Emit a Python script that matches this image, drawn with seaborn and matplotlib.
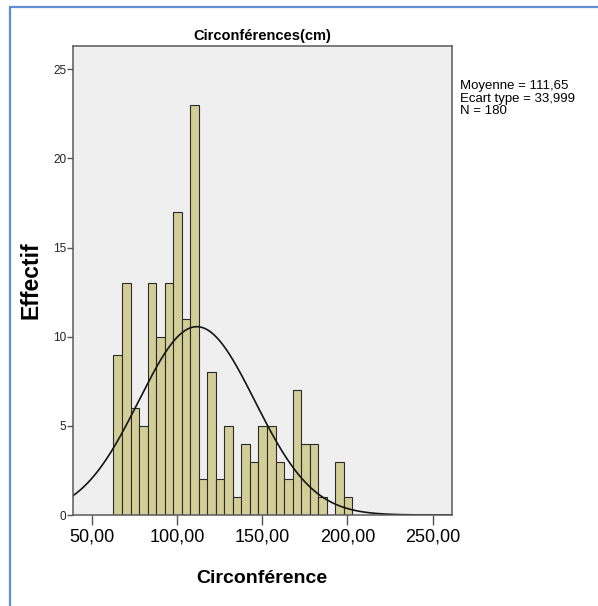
import matplotlib
matplotlib.use("Agg")
import matplotlib.pyplot as plt
from matplotlib import font_manager
from matplotlib.lines import Line2D
import numpy as np
import pandas as pd
import seaborn as sns

# histogram of circumferences (SPSS output), 5 cm bins
bin_start = 62.8
bin_width = 5.0
counts = [9, 13, 6, 5, 13, 10, 13, 17, 11, 23,
          2, 8, 2, 5, 1, 4, 3, 5, 5, 3,
          2, 7, 4, 4, 1, 0, 3, 1]
mean_val = 111.65
sd_val = 33.999
n_obs = 180
x_ticks = [50, 100, 150, 200, 250]
x_tick_labels = ["50,00", "100,00", "150,00", "200,00", "250,00"]
y_ticks = [0, 5, 10, 15, 20, 25]
stats_lines = ["Moyenne = 111,65", "Ecart type = 33,999", "N = 180"]

sns.set_style("white")
available = {f.name for f in font_manager.fontManager.ttflist}
BASE = "Liberation Sans" if "Liberation Sans" in available else "DejaVu Sans"
NARROW = "Liberation Sans Narrow" if "Liberation Sans Narrow" in available else BASE
plt.rcParams["font.family"] = [BASE, "DejaVu Sans"]
plt.rcParams["text.color"] = "black"
plt.rcParams["axes.labelcolor"] = "black"
plt.rcParams["xtick.color"] = "black"
plt.rcParams["ytick.color"] = "#222222"

edges = [bin_start + bin_width * i for i in range(len(counts) + 1)]
df = pd.DataFrame({
    "circ": [(edges[i] + edges[i + 1]) / 2 for i in range(len(counts))],
    "count": counts,
})

W, H = 598, 606
fig = plt.figure(figsize=(W / 100, H / 100), dpi=100)
ax = fig.add_axes([72.7 / W, 1 - 515 / H, (451.7 - 72.7) / W, (515 - 46) / H])
ax.set_facecolor("#EFEFEF")

sns.histplot(data=df, x="circ", weights="count", bins=edges, stat="count",
             color="#D3CE97", edgecolor="#2B2B2B", linewidth=0.8, alpha=1, ax=ax)

# fitted normal curve
xs = np.linspace(38.9, 261.1, 400)
ys = n_obs * bin_width * np.exp(-0.5 * ((xs - mean_val) / sd_val) ** 2) / (sd_val * np.sqrt(2 * np.pi))
sns.lineplot(x=xs, y=ys, color="#151515", linewidth=1.2, ax=ax)

ax.set_xlim(38.9, 261.1)
ax.set_ylim(0, 26.3)
ax.set_xticks(x_ticks)
ax.set_xticklabels(x_tick_labels, fontsize=13)
ax.set_yticks(y_ticks)
ax.set_yticklabels([str(v) for v in y_ticks], fontsize=8.5, family=[NARROW, BASE])
ax.tick_params(axis="x", direction="out", length=7, width=1, color="#555555", pad=3, bottom=True)
ax.tick_params(axis="y", direction="out", length=4, width=1, color="#555555", pad=0.5, left=True)
for s in ax.spines.values():
    s.set_color("#5A5A5A")
    s.set_linewidth(1.1)

ax.set_xlabel("Circonférence", fontsize=14, fontweight="bold")
ax.xaxis.set_label_coords(0.5, -0.118)
ax.set_ylabel("Effectif", fontsize=16.5, fontweight="bold")
ax.yaxis.set_label_coords(-0.08, 0.5)
ax.set_title("Circonférences(cm)", fontsize=10.5, pad=4, family=[NARROW, BASE], fontweight="semibold")

fig.text(460 / W, 1 - 80 / H, "\n".join(stats_lines), ha="left", va="top",
         fontsize=9.5, linespacing=1.06, family=[NARROW, BASE])

# blue frame of the screenshot
fig.add_artist(Line2D([10 / W, 10 / W], [0, 1 - 7 / H], transform=fig.transFigure,
                      color="#5E8FD3", linewidth=1.6))
fig.add_artist(Line2D([10 / W, 1], [1 - 7 / H, 1 - 7 / H], transform=fig.transFigure,
                      color="#5E8FD3", linewidth=1.6))

fig.savefig("out.png", dpi=100)
